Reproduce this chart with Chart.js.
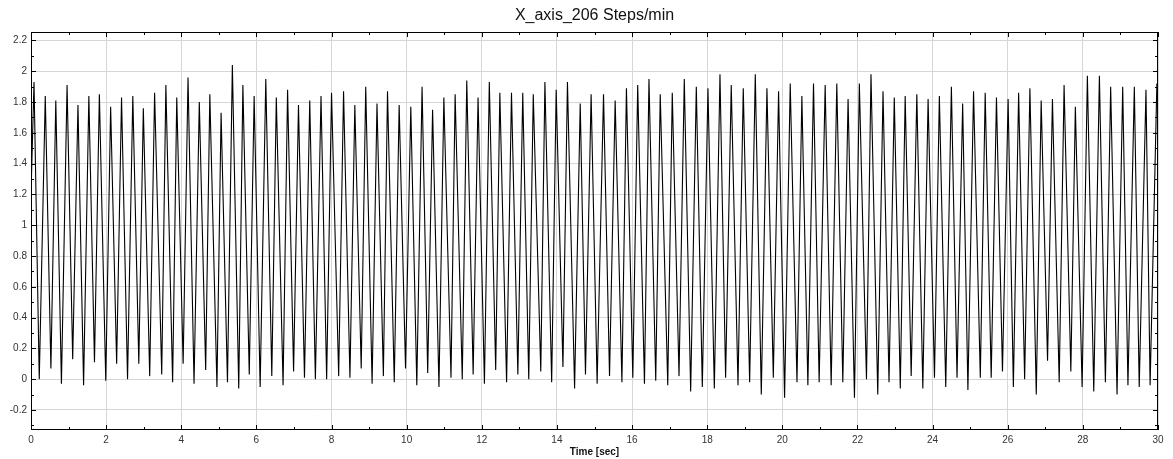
<!DOCTYPE html>
<html>
<head>
<meta charset="utf-8">
<title>X_axis_206 Steps/min</title>
<script src="https://cdn.jsdelivr.net/npm/chart.js@4.4.1/dist/chart.umd.min.js"></script>
<style>
  html, body { margin: 0; padding: 0; background: #fff; }
  #wrap { width: 1173px; height: 459px; }
</style>
</head>
<body>
<div id="wrap"><canvas id="stepsChart" width="1173" height="459"></canvas></div>
<script>
// accelerometer X axis, 30 s walk at 206 steps/min
const startTime = 0;
const startValue = 1.2;

const peakTimes = [
  0.08, 0.38, 0.66, 0.96, 1.25, 1.54, 1.82, 2.12, 2.41, 2.71,
  2.99, 3.29, 3.59, 3.88, 4.18, 4.48, 4.76, 5.06, 5.36, 5.64,
  5.94, 6.25, 6.53, 6.83, 7.12, 7.42, 7.72, 8.00, 8.32, 8.62,
  8.91, 9.21, 9.49, 9.80, 10.11, 10.41, 10.69, 10.99, 11.29, 11.60,
  11.90, 12.20, 12.48, 12.79, 13.09, 13.37, 13.68, 13.98, 14.28, 14.62,
  14.91, 15.24, 15.55, 15.85, 16.15, 16.45, 16.75, 17.07, 17.39, 17.71,
  18.02, 18.34, 18.64, 18.96, 19.28, 19.59, 19.90, 20.21, 20.52, 20.83,
  21.14, 21.45, 21.75, 22.05, 22.36, 22.68, 22.98, 23.27, 23.58, 23.88,
  24.18, 24.50, 24.80, 25.09, 25.40, 25.70, 26.01, 26.29, 26.59, 26.89,
  27.19, 27.50, 27.80, 28.12, 28.44, 28.74, 29.06, 29.37, 29.68, 29.97
];
const peakValues = [
  1.93, 1.84, 1.81, 1.91, 1.78, 1.84, 1.85, 1.77, 1.83, 1.84,
  1.76, 1.86, 1.91, 1.83, 1.96, 1.80, 1.85, 1.73, 2.04, 1.91,
  1.84, 1.95, 1.83, 1.88, 1.78, 1.81, 1.84, 1.86, 1.87, 1.78,
  1.90, 1.79, 1.87, 1.78, 1.77, 1.90, 1.75, 1.83, 1.85, 1.94,
  1.83, 1.93, 1.86, 1.86, 1.86, 1.85, 1.93, 1.88, 1.93, 1.79,
  1.85, 1.85, 1.81, 1.89, 1.91, 1.95, 1.85, 1.86, 1.95, 1.90,
  1.89, 1.98, 1.91, 1.89, 1.98, 1.89, 1.87, 1.92, 1.84, 1.92,
  1.91, 1.92, 1.82, 1.92, 1.98, 1.87, 1.83, 1.84, 1.85, 1.82,
  1.84, 1.90, 1.79, 1.87, 1.86, 1.83, 1.82, 1.86, 1.89, 1.81,
  1.82, 1.91, 1.77, 1.97, 1.97, 1.90, 1.90, 1.90, 1.88, 1.92
];

const troughTimes = [
  0.22, 0.53, 0.81, 1.11, 1.40, 1.69, 1.99, 2.28, 2.57, 2.87,
  3.16, 3.48, 3.77, 4.05, 4.34, 4.65, 4.95, 5.23, 5.53, 5.81,
  6.10, 6.41, 6.71, 6.99, 7.28, 7.57, 7.87, 8.19, 8.49, 8.79,
  9.08, 9.38, 9.67, 9.97, 10.27, 10.56, 10.86, 11.18, 11.48, 11.77,
  12.07, 12.37, 12.66, 12.96, 13.25, 13.57, 13.86, 14.16, 14.47, 14.76,
  15.07, 15.40, 15.73, 16.02, 16.33, 16.63, 16.95, 17.25, 17.56, 17.87,
  18.19, 18.49, 18.82, 19.13, 19.44, 19.76, 20.06, 20.39, 20.68, 20.98,
  21.30, 21.61, 21.92, 22.24, 22.54, 22.84, 23.14, 23.43, 23.74, 24.05,
  24.35, 24.65, 24.94, 25.27, 25.56, 25.86, 26.15, 26.45, 26.76, 27.06,
  27.37, 27.68, 27.98, 28.29, 28.60, 28.91, 29.20, 29.50, 29.79
];
const troughValues = [
  0.00, 0.07, -0.03, 0.13, -0.04, 0.11, -0.01, 0.10, 0.00, 0.10,
  0.02, 0.03, -0.02, 0.10, -0.03, 0.06, -0.05, -0.02, -0.06, 0.03,
  -0.05, 0.02, -0.04, 0.05, 0.01, 0.00, 0.00, 0.02, 0.01, 0.07,
  -0.03, 0.02, -0.02, 0.07, -0.04, 0.04, -0.05, 0.01, 0.00, 0.03,
  -0.03, 0.06, -0.02, 0.03, 0.00, 0.05, -0.02, 0.08, -0.06, 0.03,
  -0.03, 0.02, -0.02, 0.01, -0.03, -0.01, -0.04, 0.02, -0.08, -0.05,
  -0.06, 0.01, -0.04, -0.02, -0.10, 0.01, -0.12, -0.02, -0.04, -0.02,
  -0.04, -0.02, -0.12, 0.00, -0.10, -0.02, -0.06, 0.02, -0.06, 0.01,
  -0.05, 0.01, -0.07, 0.01, 0.01, 0.05, -0.05, 0.00, -0.10, 0.12,
  -0.02, 0.05, -0.05, -0.08, -0.02, -0.10, -0.04, -0.05, -0.04
];

const xTicks = [0, 2, 4, 6, 8, 10, 12, 14, 16, 18, 20, 22, 24, 26, 28, 30];
const yTicks = [-0.2, 0, 0.2, 0.4, 0.6, 0.8, 1, 1.2, 1.4, 1.6, 1.8, 2, 2.2];

function buildTrace() {
  let points = [{x: startTime, y: startValue}];
  peakTimes.forEach((t, i) => {
    points.push({x: t, y: peakValues[i]});
    if (i < troughTimes.length) {
      points.push({x: troughTimes[i], y: troughValues[i]});
    }
  });
  return points;
}

// black box round the plot with small inward ticks on every side
const frame = {
  id: 'frame',
  afterLayout(chart) {
    // centre the title over the plot rather than the whole canvas
    if (chart.titleBlock) {
      chart.titleBlock.left = chart.chartArea.left;
      chart.titleBlock.right = chart.chartArea.right;
    }
  },
  afterDraw(chart) {
    const {ctx, chartArea: a, scales} = chart;
    ctx.save();
    ctx.strokeStyle = '#000';
    ctx.lineWidth = 1;
    ctx.strokeRect(a.left + 0.5, a.top + 0.5, a.right - a.left - 1, a.bottom - a.top - 1);
    ctx.beginPath();
    for (let t = scales.x.min; t <= scales.x.max; t++) {
      let px = Math.round(scales.x.getPixelForValue(t)) + 0.5;
      let len = t % 2 === 0 ? 5 : 3;
      ctx.moveTo(px, a.top); ctx.lineTo(px, a.top + len);
      ctx.moveTo(px, a.bottom); ctx.lineTo(px, a.bottom - len);
    }
    for (let v = -3; v <= 22; v++) {
      let py = Math.round(scales.y.getPixelForValue(v / 10)) + 0.5;
      let len = v % 2 === 0 ? 5 : 3;
      ctx.moveTo(a.left, py); ctx.lineTo(a.left + len, py);
      ctx.moveTo(a.right, py); ctx.lineTo(a.right - len, py);
    }
    ctx.stroke();
    ctx.restore();
  }
};

const tickFont = {family: 'Liberation Sans, Arial, sans-serif', size: 10};

let chart = new Chart(document.getElementById('stepsChart'), {
  type: 'line',
  data: {
    datasets: [{
      label: 'X axis',
      data: buildTrace(),
      borderColor: '#000',
      borderWidth: 1.1,
      pointRadius: 0,
      tension: 0,
      fill: false
    }]
  },
  options: {
    responsive: false,
    animation: false,
    layout: {padding: {left: 0, right: 15, top: 0, bottom: 0}},
    plugins: {
      legend: {display: false},
      tooltip: {enabled: false},
      title: {
        display: true,
        text: 'X_axis_206 Steps/min',
        color: '#111',
        font: {family: 'Liberation Sans, Arial, sans-serif', size: 16, weight: 'normal', lineHeight: 1.2},
        padding: {top: 6, bottom: 6.8}
      }
    },
    scales: {
      x: {
        type: 'linear',
        min: 0,
        max: 30,
        afterBuildTicks: scale => { scale.ticks = xTicks.map(v => ({value: v})); },
        afterFit: scale => { scale.height = 29; },
        grid: {color: '#d6d6d6', drawTicks: false},
        border: {display: false},
        ticks: {color: '#333', font: tickFont, padding: 4, maxRotation: 0, callback: v => String(v)},
        title: {
          display: true,
          text: 'Time [sec]',
          color: '#111',
          font: {family: 'Liberation Sans, Arial, sans-serif', size: 10, weight: 'bold'},
          padding: {top: 0, bottom: 1}
        }
      },
      y: {
        min: -0.33,
        max: 2.255,
        afterBuildTicks: scale => { scale.ticks = yTicks.map(v => ({value: v})); },
        afterFit: scale => { scale.width = 31; },
        grid: {color: '#d6d6d6', drawTicks: false},
        border: {display: false},
        ticks: {color: '#333', font: tickFont, padding: 4, callback: v => String(+v.toFixed(1))}
      }
    }
  },
  plugins: [frame]
});
</script>
</body>
</html>
